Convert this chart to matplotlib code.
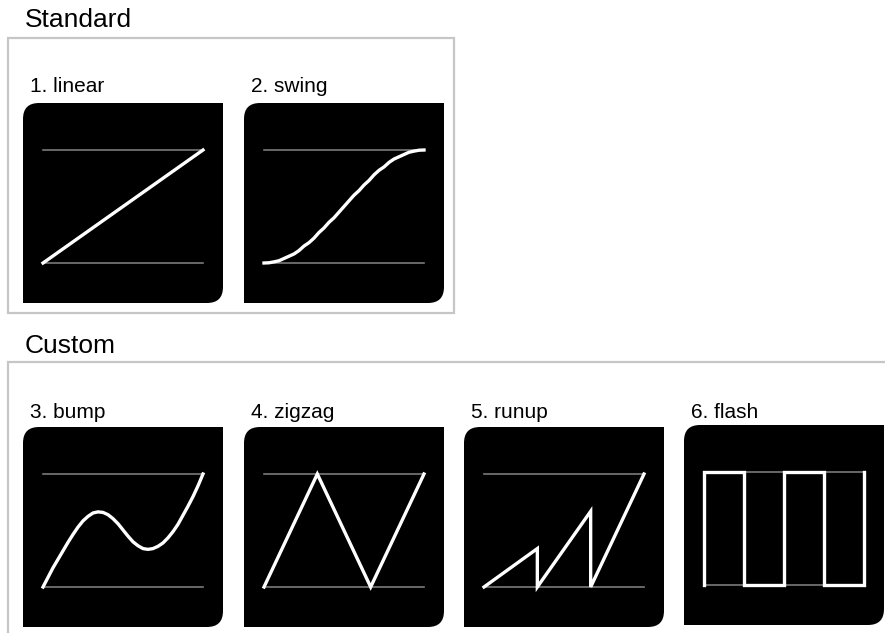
import numpy as np
import matplotlib
matplotlib.use('Agg')
from matplotlib import pyplot as plt
from matplotlib.path import Path
from matplotlib.patches import PathPatch, Rectangle

plt.rcParams['font.family'] = ['Liberation Sans', 'DejaVu Sans']

# easing curves (t from 0 to 1, value from 0 to 1)
t33 = np.linspace(0, 1, 33)
linear_t = [0, 1]
linear_v = [0, 1]
swing_v = [0, 0.002, 0.01, 0.02, 0.04, 0.06, 0.08, 0.11, 0.15, 0.18, 0.22,
           0.27, 0.31, 0.36, 0.40, 0.45, 0.50, 0.55, 0.60, 0.64, 0.69, 0.73,
           0.78, 0.82, 0.85, 0.89, 0.92, 0.94, 0.96, 0.98, 0.99, 0.998, 1.0]
bump_v = [0, 0.085, 0.17, 0.245, 0.32, 0.395, 0.465, 0.53, 0.585, 0.625,
          0.655, 0.665, 0.66, 0.64, 0.605, 0.56, 0.505, 0.45, 0.40, 0.365,
          0.34, 0.333, 0.34, 0.36, 0.39, 0.435, 0.49, 0.555, 0.635, 0.715,
          0.80, 0.895, 1.0]
zigzag_t = [0, 1/3, 2/3, 1]
zigzag_v = [0, 1, 0, 1]
runup_t = [0, 1/3, 1/3, 2/3, 2/3, 1]
runup_v = [0, 0.34, 0, 0.67, 0, 1]
flash_t = [0, 0, 0.25, 0.25, 0.5, 0.5, 0.75, 0.75, 1, 1]
flash_v = [0, 1, 1, 0, 0, 1, 1, 0, 0, 1]

labels = ['1. linear', '2. swing', '3. bump', '4. zigzag', '5. runup', '6. flash']
series = [(linear_t, linear_v), (t33, swing_v), (t33, bump_v),
          (zigzag_t, zigzag_v), (runup_t, runup_v), (flash_t, flash_v)]

W, H = 885, 633
fig = plt.figure(figsize=(W / 100, H / 100), dpi=100)
fig.patch.set_facecolor('white')


def fx(px):
    return px / W


def fy(py):
    return 1 - py / H


# group boxes
fig.add_artist(Rectangle((fx(8), fy(313)), fx(446), 275 / H, transform=fig.transFigure,
                         fill=False, ec='#c6c6c6', lw=1.6))
fig.add_artist(Rectangle((fx(8), fy(700)), fx(900), 338 / H, transform=fig.transFigure,
                         fill=False, ec='#c6c6c6', lw=1.6))

fig.text(fx(25), fy(27), 'Standard', fontsize=19, va='baseline', ha='left')
fig.text(fx(25), fy(353), 'Custom', fontsize=19, va='baseline', ha='left')

# panel positions (left px, top px, label baseline px)
panels = [(23, 103, 92), (244, 103, 92), (23, 427, 418), (244, 427, 418),
          (464, 427, 418), (684, 425, 418)]

r = 0.08
verts = [(0, 0), (1 - r, 0), (1, 0), (1, r), (1, 1), (r, 1), (0, 1), (0, 1 - r), (0, 0)]
codes = [Path.MOVETO, Path.LINETO, Path.CURVE3, Path.CURVE3, Path.LINETO,
         Path.LINETO, Path.CURVE3, Path.CURVE3, Path.CLOSEPOLY]
shape = Path(verts, codes)

for (left, top, base), lab, (tt, vv) in zip(panels, labels, series):
    ax = fig.add_axes([fx(left), fy(top + 200), 200 / W, 200 / H])
    ax.axis('off')
    ax.add_patch(PathPatch(shape, transform=ax.transAxes, fc='black', ec='none', zorder=0))
    ax.set_xlim(-20 / 160, 180 / 160)
    ax.set_ylim(-40 / 113, 160 / 113)
    ax.plot([0, 1], [0, 0], color='#7a7a7a', lw=1.2, zorder=1)
    ax.plot([0, 1], [1, 1], color='#7a7a7a', lw=1.2, zorder=1)
    ax.plot(tt, vv, color='white', lw=2.4, zorder=2, solid_joinstyle='miter')
    fig.text(fx(left + 7), fy(base), lab, fontsize=15, va='baseline', ha='left')

fig.savefig('out.png', dpi=100)
